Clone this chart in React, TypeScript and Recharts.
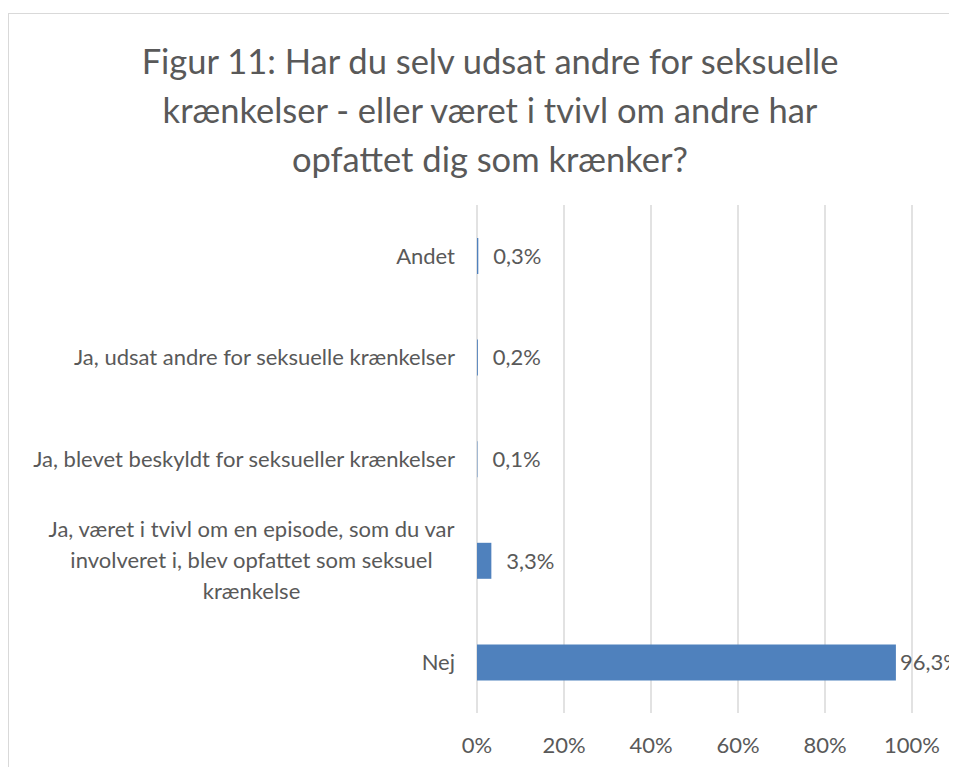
import React from "react";
import { BarChart, Bar, XAxis, YAxis, CartesianGrid, LabelList } from "recharts";

const titleLines = [
  "Figur 11: Har du selv udsat andre for seksuelle",
  "krænkelser - eller været i tvivl om andre har",
  "opfattet dig som krænker?",
];

const categories = [
  "Andet",
  "Ja, udsat andre for seksuelle krænkelser",
  "Ja, blevet beskyldt for seksueller krænkelser",
  "Ja, været i tvivl om en episode, som du var involveret i, blev opfattet som seksuel krænkelse",
  "Nej",
];

const values = [0.3, 0.2, 0.1, 3.3, 96.3];

const xTicks = [0, 20, 40, 60, 80, 100];

const data = categories.map((c, i) => ({ name: c, value: values[i] }));

const FONT = "Lato, 'Open Sans', sans-serif";
const TEXT = "#595959";
const LABEL_SIZE = 22;

let canvasCtx: CanvasRenderingContext2D | null = null;
function measure(text: string, size: number): number {
  if (typeof document === "undefined") return text.length * size * 0.5;
  if (!canvasCtx) {
    const c = document.createElement("canvas");
    canvasCtx = c.getContext("2d");
  }
  if (!canvasCtx) return text.length * size * 0.5;
  canvasCtx.font = `${size}px ${FONT}`;
  return canvasCtx.measureText(text).width;
}

function wrap(text: string, maxChars: number): string[] {
  if (text.length <= 50) return [text];
  const words = text.split(" ");
  const lines: string[] = [];
  let cur = "";
  for (const w of words) {
    const next = cur ? cur + " " + w : w;
    if (next.length > maxChars && cur) {
      lines.push(cur);
      cur = w;
    } else {
      cur = next;
    }
  }
  if (cur) lines.push(cur);
  return lines;
}

const YTick = (props: any) => {
  const { x, y, payload } = props;
  const lines = wrap(String(payload.value), 43);
  const lh = 31;
  if (lines.length === 1) {
    return (
      <text x={x} y={y} dy="0.35em" textAnchor="end" fill={TEXT} fontSize={LABEL_SIZE} fontFamily={FONT}>
        {lines[0]}
      </text>
    );
  }
  const maxW = Math.max(...lines.map((l) => measure(l, LABEL_SIZE)));
  const cx = x - maxW / 2;
  const startY = y - ((lines.length - 1) * lh) / 2;
  return (
    <text textAnchor="middle" fill={TEXT} fontSize={LABEL_SIZE} fontFamily={FONT}>
      {lines.map((l, i) => (
        <tspan key={i} x={cx} y={startY + i * lh} dy="0.35em">
          {l}
        </tspan>
      ))}
    </text>
  );
};

const XTick = (props: any) => {
  const { x, y, payload } = props;
  return (
    <text x={x} y={y} dy="0.35em" textAnchor="middle" fill={TEXT} fontSize={LABEL_SIZE} fontFamily={FONT}>
      {`${payload.value}%`}
    </text>
  );
};

const PLOT_RIGHT = 904;

const ValueLabel = (props: any) => {
  const { x, y, width, height, value } = props;
  const end = Number(x) + Number(width);
  const lx = Math.min(end + 15, PLOT_RIGHT - 12);
  return (
    <text x={lx} y={Number(y) + Number(height) / 2} dy="0.35em" textAnchor="start" fill={TEXT} fontSize={LABEL_SIZE} fontFamily={FONT}>
      {`${String(value).replace(".", ",")}%`}
    </text>
  );
};

export default function App() {
  return (
    <div style={{ position: "relative", width: 949, height: 759, overflow: "hidden", background: "#fff" }}>
      <div style={{ position: "absolute", left: 0, top: 5, width: 949, height: 1, background: "#d9d9d9" }} />
      <div style={{ position: "absolute", left: 0, top: 5, width: 1, height: 754, background: "#d9d9d9" }} />
      <div
        style={{
          position: "absolute",
          left: 82,
          top: 28,
          width: 800,
          textAlign: "center",
          fontFamily: FONT,
          fontSize: 34.5,
          lineHeight: "49px",
          color: TEXT,
        }}
      >
        {titleLines.map((l, i) => (
          <div key={i} style={{ whiteSpace: "nowrap" }}>{l}</div>
        ))}
      </div>
      <div style={{ position: "absolute", left: 0, top: 0 }}>
        <BarChart
          width={949}
          height={759}
          data={data}
          layout="vertical"
          margin={{ top: 197, right: 45, bottom: 14, left: 0 }}
        >
          <CartesianGrid horizontal={false} vertical={true} stroke="#d9d9d9" strokeWidth={1.5} />
          <XAxis
            type="number"
            domain={[0, 100]}
            ticks={xTicks}
            axisLine={false}
            tickLine={false}
            tickSize={0}
            tickMargin={32}
            tick={<XTick />}
            height={40}
            interval={0}
          />
          <YAxis
            type="category"
            dataKey="name"
            width={469}
            axisLine={false}
            tickLine={false}
            tickSize={0}
            tickMargin={22}
            tick={<YTick />}
            interval={0}
          />
          <Bar dataKey="value" fill="#4f81bd" barSize={36} isAnimationActive={false}>
            <LabelList dataKey="value" content={<ValueLabel />} />
          </Bar>
        </BarChart>
      </div>
    </div>
  );
}
